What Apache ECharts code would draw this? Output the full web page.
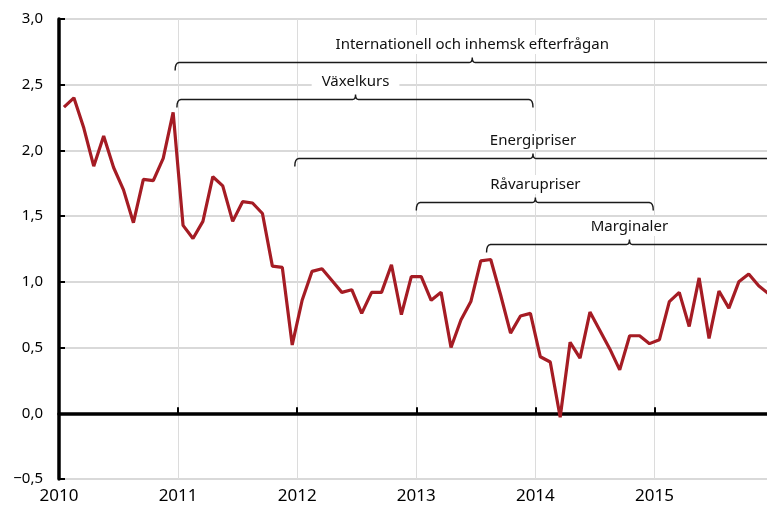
<!DOCTYPE html>
<html>
<head>
<meta charset="utf-8">
<script src="https://cdn.jsdelivr.net/npm/echarts@6/dist/echarts.min.js"></script>
<style>
  html, body { margin: 0; padding: 0; background: #fff; }
  #main { width: 767px; height: 508px; }
</style>
</head>
<body>
<div id="main"></div>
<script>
// månadsvärden per år (jan..dec)
var years = [2010, 2011, 2012, 2013, 2014, 2015];
var v2010 = [2.33, 2.40, 2.17, 1.88, 2.11, 1.87, 1.70, 1.45, 1.78, 1.77, 1.94, 2.29];
var v2011 = [1.43, 1.33, 1.46, 1.80, 1.73, 1.46, 1.61, 1.60, 1.52, 1.12, 1.11, 0.52];
var v2012 = [0.86, 1.08, 1.10, 1.01, 0.92, 0.94, 0.76, 0.92, 0.92, 1.13, 0.75, 1.04];
var v2013 = [1.04, 0.86, 0.92, 0.50, 0.71, 0.85, 1.16, 1.17, 0.90, 0.61, 0.74, 0.76];
var v2014 = [0.43, 0.39, -0.03, 0.54, 0.42, 0.77, 0.63, 0.49, 0.33, 0.59, 0.59, 0.53];
var v2015 = [0.56, 0.85, 0.92, 0.66, 1.03, 0.57, 0.93, 0.80, 1.00, 1.06, 0.97, 0.91];
var yearValues = [v2010, v2011, v2012, v2013, v2014, v2015];

// klammerannoteringar: [text, start, slut, mitt, nivå, öppen till höger]
var braces = [
  ['Internationell och inhemsk efterfrågan', 2010.975, 2016, 2013.47, 2.674, true],
  ['Växelkurs', 2010.99, 2013.98, 2012.49, 2.39, false],
  ['Energipriser', 2011.98, 2016, 2013.98, 1.94, true],
  ['Råvarupriser', 2013.0, 2014.99, 2014.0, 1.61, false],
  ['Marginaler', 2013.59, 2016, 2014.79, 1.29, true]
];

var points = [];
years.forEach(function (y, i) {
  yearValues[i].forEach(function (v, m) {
    points.push([y + (m + 0.5) / 12, v]);
  });
});

var myecharts = echarts.init(document.getElementById('main'));
var font = 'Noto Sans';
var xmax = 2015.945;
var option = {
  animation: false,
  backgroundColor: '#fff',
  grid: { left: 59, right: 0, top: 19, bottom: 29 },
  xAxis: [
    {
      type: 'value',
      min: 2010,
      max: xmax,
      interval: 1,
      axisLine: { show: false, onZero: false },
      axisTick: { show: false },
      splitLine: { show: true, showMaxLine: false, lineStyle: { color: '#dcdcdc', width: 1 } },
      axisLabel: {
        margin: 9,
        fontFamily: font,
        fontSize: 17,
        color: '#000',
        showMaxLabel: false,
        formatter: function (v) { return v % 1 === 0 ? String(v) : ''; }
      }
    },
    {
      type: 'value',
      min: 2010,
      max: xmax,
      interval: 1,
      position: 'bottom',
      axisLine: { show: true, onZero: true, lineStyle: { color: '#000', width: 3.5 } },
      axisTick: { show: true, inside: true, length: 6, customValues: years.slice(1), lineStyle: { color: '#000', width: 2 } },
      axisLabel: { show: false },
      splitLine: { show: false }
    }
  ],
  yAxis: {
    type: 'value',
    min: -0.5,
    max: 3,
    interval: 0.5,
    axisLine: { show: true, lineStyle: { color: '#000', width: 3.5 } },
    axisTick: { show: true, inside: true, length: 6, lineStyle: { color: '#000', width: 2 } },
    splitLine: { show: true, lineStyle: { color: '#cccccc', width: 1.5 } },
    axisLabel: {
      margin: 16,
      fontFamily: font,
      fontSize: 15,
      color: '#000',
      formatter: function (v) { return v.toFixed(1).replace('.', ',').replace('-', '\u2212'); }
    }
  },
  series: [{
    type: 'line',
    data: points,
    symbol: 'none',
    lineStyle: { color: '#a51c24', width: 3.2 },
    z: 5
  }]
};
myecharts.setOption(option);

// kvadratisk kurva som punkter
function quad(a, c, b) {
  var out = [];
  for (var t = 0.25; t <= 1.001; t += 0.25) {
    var u = 1 - t;
    out.push([u * u * a[0] + 2 * u * t * c[0] + t * t * b[0],
              u * u * a[1] + 2 * u * t * c[1] + t * t * b[1]]);
  }
  return out;
}

// rita klamrarna i dataskala
var graphics = [];
braces.forEach(function (b) {
  var p0 = myecharts.convertToPixel({ gridIndex: 0 }, [b[1], b[4]]);
  var p1 = myecharts.convertToPixel({ gridIndex: 0 }, [b[2], b[4]]);
  var pm = myecharts.convertToPixel({ gridIndex: 0 }, [b[3], b[4]]);
  var y = Math.round(p0[1]) + 0.5;
  var x0 = p0[0], x1 = p1[0], xm = pm[0];
  var pts = [[x0, y + 8]];
  pts = pts.concat(quad([x0, y + 8], [x0, y], [x0 + 4, y]));
  pts.push([xm - 3, y]);
  pts = pts.concat(quad([xm - 3, y], [xm, y], [xm, y - 5]));
  pts = pts.concat(quad([xm, y - 5], [xm, y], [xm + 3, y]));
  if (b[5]) {
    pts.push([x1, y]);
  } else {
    pts.push([x1 - 4, y]);
    pts = pts.concat(quad([x1 - 4, y], [x1, y], [x1, y + 8]));
  }
  graphics.push({
    type: 'polyline',
    shape: { points: pts },
    style: { fill: null, stroke: '#1a1a1a', lineWidth: 1.4 },
    z: 10
  });
  graphics.push({
    type: 'text',
    x: xm,
    y: y - 18,
    style: {
      text: b[0],
      fontFamily: font,
      fontSize: 15,
      fill: '#111',
      align: 'center',
      verticalAlign: 'middle',
      backgroundColor: '#fff',
      padding: [2, 10]
    },
    z: 11
  });
});
myecharts.setOption({ graphic: graphics });
</script>
</body>
</html>
